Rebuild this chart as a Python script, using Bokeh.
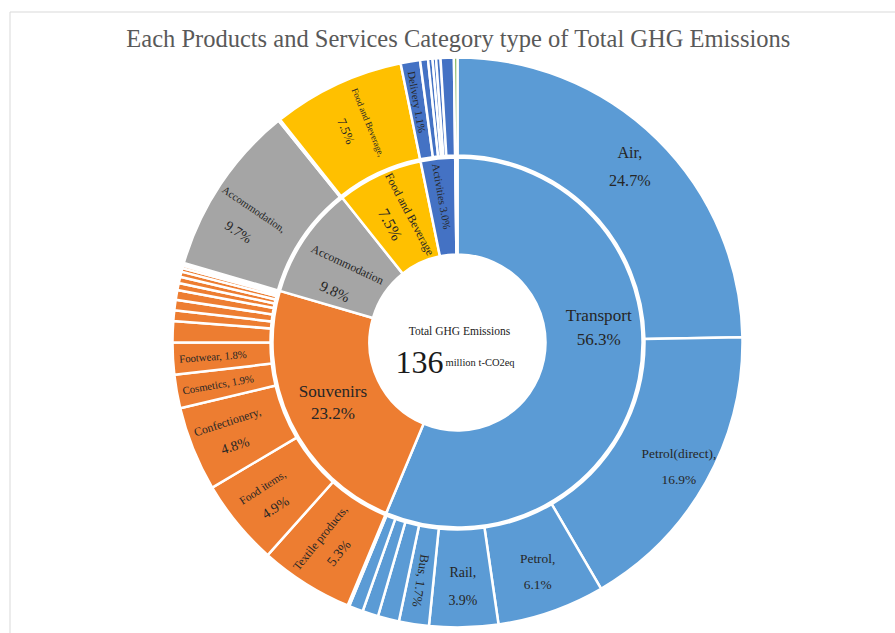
import math
from bokeh.plotting import figure
from bokeh.models import Range1d, ColumnDataSource
from bokeh.embed import file_html
from bokeh.resources import INLINE
from bokeh.core.properties import value

# ---------------- data ----------------
chart_title = "Each Products and Services Category type of Total GHG Emissions"
total_label = "Total GHG Emissions"
total_value = "136"
total_unit = "million t-CO2eq"

categories = ["Transport", "Souvenirs", "Accommodation", "Food and Beverage", "Activities", "Other"]
category_shares = [56.3, 23.2, 9.8, 7.5, 3.0, 0.2]
category_colors = ["#5B9BD5", "#ED7D31", "#A5A5A5", "#FFC000", "#4472C4", "#70AD47"]

transport_items = ["Air", "Petrol(direct)", "Petrol", "Rail", "Bus", "T6", "T7", "T8", "T9"]
transport_shares = [24.7, 16.9, 6.1, 3.9, 1.7, 1.2, 0.9, 0.8, 0.1]

souvenir_items = ["Textile products", "Food items", "Confectionery", "Cosmetics", "Footwear",
                  "S6", "S7", "S8", "S9", "S10", "S11", "S12", "S13", "S14", "S15"]
souvenir_shares = [5.3, 4.9, 4.8, 1.9, 1.8, 1.2, 0.6, 0.6, 0.55, 0.4, 0.35, 0.3, 0.2, 0.15, 0.15]

accommodation_items = ["Accommodation", "A2"]
accommodation_shares = [9.7, 0.1]

food_items = ["Food and Beverage"]
food_shares = [7.5]

activity_items = ["Delivery", "V2", "V3", "V4", "V5", "V6"]
activity_shares = [1.1, 0.45, 0.25, 0.2, 0.25, 0.75]

other_items = ["O1"]
other_shares = [0.2]

sub_items = [transport_items, souvenir_items, accommodation_items, food_items, activity_items, other_items]
sub_shares = [transport_shares, souvenir_shares, accommodation_shares, food_shares, activity_shares, other_shares]

# ---------------- layout / style ----------------
W, H = 895, 633
CX, CY = 457, H - 342
R_HOLE, R_IN, R_OUT0, R_OUT = 88, 185, 187, 285
FONT = value("Liberation Serif")
TXT = "#262626"
FS = 1.07  # font scale

p = figure(width=W, height=H, x_range=Range1d(0, W), y_range=Range1d(0, H),
           x_axis_type=None, y_axis_type=None, output_backend="svg",
           toolbar_location=None, min_border=0)
p.grid.visible = False
p.outline_line_color = None
p.background_fill_color = "white"


def ang(frac):
    return math.pi / 2 - 2 * math.pi * frac / 100.0


def wedges(names, shares, colors):
    st, en, mid = [], [], []
    c = 0.0
    for s in shares:
        st.append(ang(c))
        en.append(ang(c + s))
        mid.append(c + s / 2)
        c += s
    return dict(name=names, share=shares, start=st, end=en, color=colors, mid=mid)


inner = wedges(categories, category_shares, category_colors)
p.annular_wedge(x=CX, y=CY, inner_radius=R_HOLE, outer_radius=R_IN,
                start_angle="start", end_angle="end", direction="clock",
                fill_color="color", line_color="white", line_width=2.5,
                source=ColumnDataSource(inner))

o_names, o_shares, o_colors = [], [], []
for names, shares, col in zip(sub_items, sub_shares, category_colors):
    o_names += names
    o_shares += shares
    o_colors += [col] * len(names)
outer = wedges(o_names, o_shares, o_colors)
p.annular_wedge(x=CX, y=CY, inner_radius=R_OUT0, outer_radius=R_OUT,
                start_angle="start", end_angle="end", direction="clock",
                fill_color="color", line_color="white", line_width=2.5,
                source=ColumnDataSource(outer))

# frame lines (chart area border)
p.segment(x0=[9.5, 9.5], y0=[H - 11.5, H - 11.5], x1=[W, 9.5], y1=[H - 11.5, 0],
          line_color="#d9d9d9", line_width=1)

# labels: spec = (mode, suffix, r, rot_deg, name_fs, value_fs, gap, angle_override)
outer_spec = {
    "Air": ("two", ",", 246, 0, 15, 15, 28, None),
    "Petrol(direct)": ("two", ",", 254, 0, 12.5, 12.5, 26, None),
    "Petrol": ("two", ",", 243, 0, 12.5, 12.5, 26, None),
    "Rail": ("two", ",", 244, 0, 13, 13, 28, None),
    "Bus": ("one", ",", 241, -99, 12, 12, 0, None),
    "Textile products": ("two", ",", 240, 51, 11, 13, 24, None),
    "Food items": ("two", ",", 244, 33, 10.5, 13, 24, None),
    "Confectionery": ("two", ",", 244, 18, 11, 13, 25, None),
    "Cosmetics": ("one", ",", 243, 10, 10, 10, 0, None),
    "Footwear": ("one", ",", 245, 4, 10, 10, 0, None),
    "Accommodation": ("two", ",", 244, -34, 10, 13, 28, 300),
    "Food and Beverage": ("two", ",", 238, -68, 8.5, 12, 24, None),
    "Delivery": ("one", "", 244, -80, 10, 10, 0, None),
}
inner_spec = {
    "Transport": ("two", "", 142, 0, 16, 16, 24, 84),
    "Souvenirs": ("two", "", 138, 0, 16, 16, 22, None),
    "Accommodation": ("two", "", 133, -25, 11, 14, 30, 299),
    "Food and Beverage": ("two", "", 136, -62, 11, 15, 22, None),
    "Activities": ("one", "", 147, -80, 10, 10, 0, None),
}

lx, ly, lt, la, lf = [], [], [], [], []


def add_labels(ring, spec):
    for name, share, mid in zip(ring["name"], ring["share"], ring["mid"]):
        if name not in spec:
            continue
        mode, suf, r, rot, nfs, vfs, gap, aov = spec[name]
        a = math.radians(aov) if aov is not None else 2 * math.pi * mid / 100.0
        x = CX + r * math.sin(a)
        y = CY + r * math.cos(a)
        th = math.radians(rot)
        pct = f"{share:.1f}%"
        if mode == "one":
            lx.append(x); ly.append(y); lt.append(f"{name}{suf} {pct}"); la.append(th)
            lf.append(f"{nfs * FS:.1f}px")
        else:
            ux, uy = -math.sin(th), math.cos(th)
            lx.append(x + ux * gap / 2); ly.append(y + uy * gap / 2)
            lt.append(f"{name}{suf}"); la.append(th); lf.append(f"{nfs * FS:.1f}px")
            lx.append(x - ux * gap / 2); ly.append(y - uy * gap / 2)
            lt.append(pct); la.append(th); lf.append(f"{vfs * FS:.1f}px")


add_labels(outer, outer_spec)
add_labels(inner, inner_spec)

p.text(x="x", y="y", text="text", angle="angle", text_font_size="fs",
       source=ColumnDataSource(dict(x=lx, y=ly, text=lt, angle=la, fs=lf)),
       text_font=FONT, text_color=TXT, text_align="center", text_baseline="middle")

# title
p.text(x=[458], y=[H - 38], text=[chart_title], text_font=FONT, text_font_size="24.5px",
       text_color="#595959", text_align="center", text_baseline="middle")

# centre texts
p.text(x=[CX + 2], y=[CY + 12], text=[total_label], text_font=FONT, text_font_size="11.5px",
       text_color="#1a1a1a", text_align="center", text_baseline="middle")
p.text(x=[CX - 14], y=[CY - 20], text=[total_value], text_font=FONT, text_font_size="32px",
       text_color="#1a1a1a", text_align="right", text_baseline="alphabetic")
p.text(x=[CX - 12], y=[CY - 20], text=[total_unit], text_font=FONT, text_font_size="10.5px",
       text_color="#1a1a1a", text_align="left", text_baseline="alphabetic")

open("out.html", "w").write(file_html(p, INLINE))
